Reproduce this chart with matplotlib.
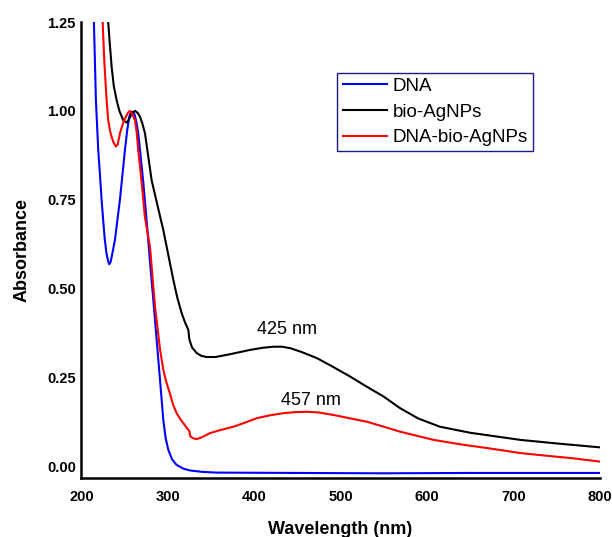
import numpy as np
import matplotlib
matplotlib.use('Agg')
import matplotlib.pyplot as plt

plt.rcParams['font.family'] = ['Liberation Sans', 'DejaVu Sans']

# DNA
dna_wl = [212, 214.5, 216.8, 219.5, 221.5, 223.4, 225.3, 227, 229, 230.7, 232.2, 233.8, 235.5, 238.8,
          241.5, 244.6, 247.5, 250.4, 253, 255.4, 257.5, 259.3, 261.5, 263.5, 265.8, 268.5, 271.6,
          274.5, 277.4, 280.3, 283.2, 287, 291, 294.8, 297.5, 300.6, 305, 310, 318, 325.7,
          340, 356.7, 450, 550, 650, 800]
dna_abs = [1.36, 1.25, 1.03, 0.89, 0.82, 0.75, 0.69, 0.64, 0.60, 0.58, 0.569, 0.575, 0.595, 0.637,
           0.69, 0.75, 0.82, 0.89, 0.945, 0.984, 0.996, 0.998, 0.99, 0.97, 0.937, 0.875, 0.80,
           0.72, 0.635, 0.55, 0.47, 0.36, 0.244, 0.131, 0.08, 0.047, 0.02, 0.005, -0.006, -0.011,
           -0.015, -0.017, -0.018, -0.019, -0.018, -0.018]

# bio-AgNPs
bio_wl = [229, 231, 233, 235, 237.5, 240.8, 244, 248.4, 252.4, 255.5, 258.2, 262, 265, 267.8,
          270.5, 273.6, 277.5, 281.3, 288, 294.8, 300.6, 306.4, 311, 316.1, 320, 323.8, 324.9,
          328, 333.5, 339, 345, 355, 368.2, 380, 395.2, 410, 422.2, 432, 441.6, 455, 472.5,
          490, 511.1, 530, 549.7, 569, 590, 615, 650, 708, 750, 800]
bio_abs = [1.33, 1.25, 1.185, 1.124, 1.07, 1.03, 1.0, 0.974, 0.967, 0.978, 0.993, 1.0, 0.995, 0.984,
           0.965, 0.937, 0.87, 0.805, 0.735, 0.665, 0.595, 0.525, 0.475, 0.431, 0.405, 0.384, 0.358,
           0.335, 0.319, 0.311, 0.308, 0.308, 0.314, 0.32, 0.328, 0.334, 0.337, 0.337, 0.333, 0.322,
           0.305, 0.282, 0.253, 0.225, 0.197, 0.164, 0.135, 0.112, 0.095, 0.075, 0.065, 0.054]

# DNA-bio-AgNPs
mix_wl = [223, 224.6, 226.5, 229.2, 231, 233, 235, 237, 240, 242, 244.6, 247.5, 250.4, 254, 256.2,
          258.5, 262, 264, 265.8, 269.8, 273.6, 279.4, 285.2, 291, 294.8, 298, 302.5, 306, 310.3,
          314, 318, 323.8, 325, 326, 329, 333.5, 340, 348.9, 360, 375.9, 390, 403, 418, 433.8,
          447, 461, 475, 491.8, 510, 530.5, 550, 569, 607.6, 640, 669.5, 708, 740, 766, 800]
mix_abs = [1.33, 1.25, 1.14, 1.03, 0.974, 0.945, 0.927, 0.912, 0.90, 0.905, 0.937, 0.96, 0.979,
           0.995, 1.0, 0.993, 0.974, 0.94, 0.89, 0.797, 0.70, 0.618, 0.45, 0.33, 0.272, 0.24,
           0.205, 0.175, 0.15, 0.135, 0.122, 0.103, 0.10, 0.085, 0.08, 0.077, 0.083, 0.094, 0.102,
           0.112, 0.124, 0.136, 0.144, 0.15, 0.153, 0.154, 0.152, 0.145, 0.136, 0.126, 0.112,
           0.098, 0.075, 0.062, 0.052, 0.038, 0.03, 0.024, 0.014]

fig = plt.figure(figsize=(6.12, 5.37), dpi=100)
ax = fig.add_axes([0.133, 0.110, 0.847, 0.849])

ax.plot(dna_wl, dna_abs, color='#0000ff', lw=1.5, label='DNA')
ax.plot(bio_wl, bio_abs, color='black', lw=1.5, label='bio-AgNPs')
ax.plot(mix_wl, mix_abs, color='#ff0000', lw=1.5, label='DNA-bio-AgNPs')

ax.set_xlim(200, 800)
ax.set_ylim(-0.032, 1.25)
ax.set_xticks([200, 300, 400, 500, 600, 700, 800])
ax.set_yticks([0, 0.25, 0.5, 0.75, 1.0, 1.25])
ax.set_yticklabels(['0.00', '0.25', '0.50', '0.75', '1.00', '1.25'])
ax.tick_params(axis='x', length=0, labelsize=10.5, pad=9)
ax.tick_params(axis='y', length=0, labelsize=10.5, pad=4)
for lab in ax.get_xticklabels() + ax.get_yticklabels():
    lab.set_fontweight('bold')

for s in ['top', 'right']:
    ax.spines[s].set_visible(False)
for s in ['left', 'bottom']:
    ax.spines[s].set_linewidth(1.8)

ax.set_xlabel('Wavelength (nm)', fontsize=13, fontweight='bold', labelpad=12)
ax.set_ylabel('Absorbance', fontsize=13, fontweight='bold', labelpad=12)

ax.text(437.8, 0.386, '425 nm', fontsize=13, ha='center', va='center')
ax.text(465.6, 0.187, '457 nm', fontsize=13, ha='center', va='center')

leg = ax.legend(loc='upper left', bbox_to_anchor=(0.494, 0.889), borderaxespad=0,
                fancybox=False, edgecolor='#1a1a8c', fontsize=13.5, handlelength=2.35,
                handletextpad=0.3, labelspacing=0.45, borderpad=0.28, framealpha=1)
leg.get_frame().set_linewidth(1.0)

fig.savefig('out.png', dpi=100)
